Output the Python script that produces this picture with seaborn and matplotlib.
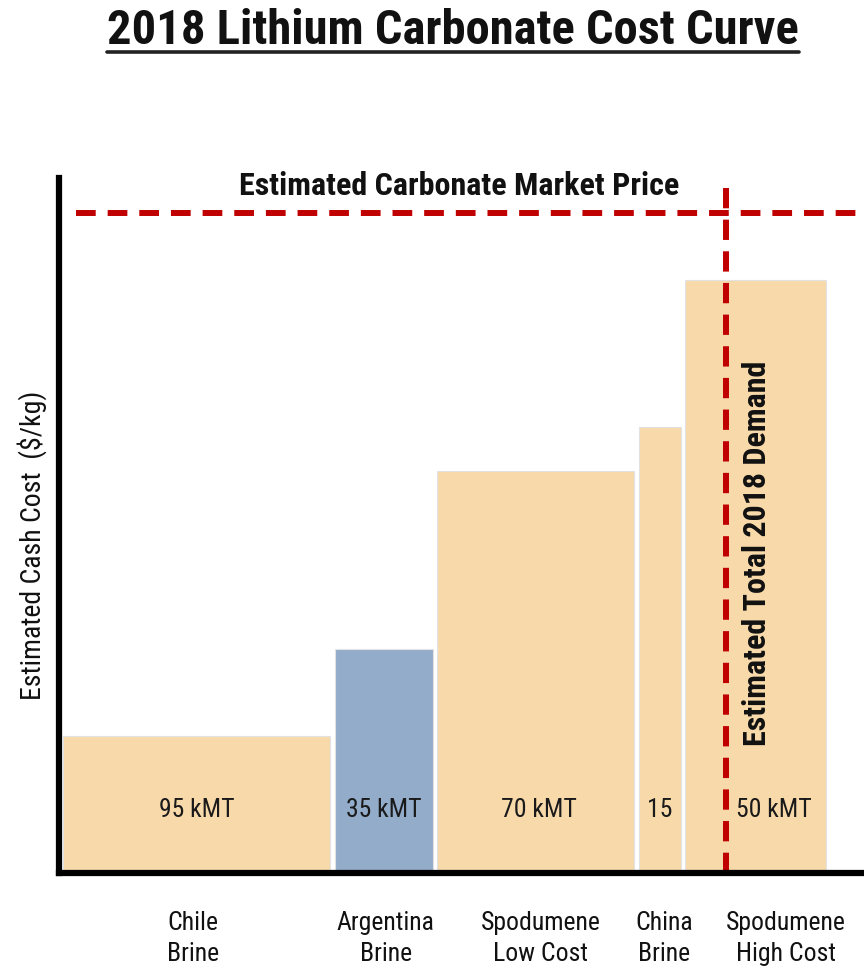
import numpy as np
import pandas as pd
import seaborn as sns
import matplotlib.pyplot as plt
from matplotlib.lines import Line2D
import matplotlib.transforms as mtransforms

sns.set_theme(style="white")
plt.rcParams['font.family'] = ['Roboto Condensed', 'Liberation Sans', 'DejaVu Sans']

# supply segments (kMT) and estimated cash cost (arbitrary $/kg scale)
categories = ["Chile\nBrine", "Argentina\nBrine", "Spodumene\nLow Cost", "China\nBrine", "Spodumene\nHigh Cost"]
volume_labels = ["95 kMT", "35 kMT", "70 kMT", "15", "50 kMT"]
volumes = [95, 35, 70, 15, 50]
costs = [3.43, 5.6, 10.05, 11.15, 14.83]
colors = ["#F8D9AA", "#92ACCA", "#F8D9AA", "#F8D9AA", "#F8D9AA"]
market_price = 16.5
total_demand = 236

gap = 1.6
df = pd.DataFrame({"cat": categories, "vol": volumes, "cost": costs, "label": volume_labels})
lefts = []
pos = 0.0
for v in df["vol"]:
    lefts.append(pos)
    pos += v + gap
df["left"] = lefts
df["center"] = df["left"] + df["vol"] / 2

fig = plt.figure(figsize=(8.64, 9.72), dpi=100)
ax = fig.add_axes([59 / 864, 1 - 873 / 972, 1 - 59 / 864, (873 - 178) / 972])

ax.bar(df["left"], df["cost"], width=df["vol"], align="edge", color=colors,
       edgecolor="#E2E2E2", linewidth=0.8, zorder=2)

ax.set_xlim(-1.5, 285)
ax.set_ylim(0, 17.375)

# market price line
ax.hlines(market_price, 4.5, 290, colors="#C00000", linestyles=(0, (3.3, 2.0)), linewidth=4.3, zorder=3)
ax.text(141, 17.17, "Estimated Carbonate Market Price", ha="center", va="center",
        fontsize=23, fontweight="bold", color="#111111")

# demand line
ax.axvline(total_demand, 0, 0.995, color="#C00000", linestyle=(0, (3.4, 1.9)), linewidth=4.3, zorder=3, clip_on=False)
ax.text(247, 8.0, "Estimated Total 2018 Demand", rotation=90, ha="center", va="center",
        fontsize=23, fontweight="bold", color="#111111", zorder=4)

# volume labels inside bars
label_shift = [0, 0, 1, 0, 6.5]
for (_, r), s in zip(df.iterrows(), label_shift):
    ax.text(r["center"] + s, 1.57, r["label"], ha="center", va="center", fontsize=18.5, color="#1a1a1a", zorder=4)

# category tick labels
ax.set_xticks(df["center"])
ax.set_xticklabels(df["cat"], fontsize=18.5, linespacing=1.4, color="#111111")
ax.tick_params(axis="x", length=0, pad=27)
tick_shift = [-4, 2, 5, 4, 30]
for lab, s in zip(ax.get_xticklabels(), tick_shift):
    lab.set_transform(lab.get_transform() + mtransforms.ScaledTranslation(s / 100, 0, fig.dpi_scale_trans))
ax.set_yticks([])

ax.set_ylabel("Estimated Cash Cost  ($/kg)", fontsize=20, color="#111111")
ax.yaxis.set_label_coords(-0.015, 0.472)

sns.despine(ax=ax, top=True, right=True)
for side in ["left", "bottom"]:
    ax.spines[side].set_color("black")
    ax.spines[side].set_linewidth(4.5)
    ax.spines[side].set_zorder(5)

# title with underline
title = fig.text(453 / 864, 1 - 31 / 972, "2018 Lithium Carbonate Cost Curve", ha="center", va="center",
                 fontsize=35, fontweight="bold", color="#111111")
fig.canvas.draw()
bb = title.get_window_extent().transformed(fig.transFigure.inverted())
fig.add_artist(Line2D([bb.x0, bb.x1], [1 - 52 / 972] * 2, transform=fig.transFigure,
                      color="#222222", linewidth=2.6))

fig.savefig("out.png", dpi=100)
